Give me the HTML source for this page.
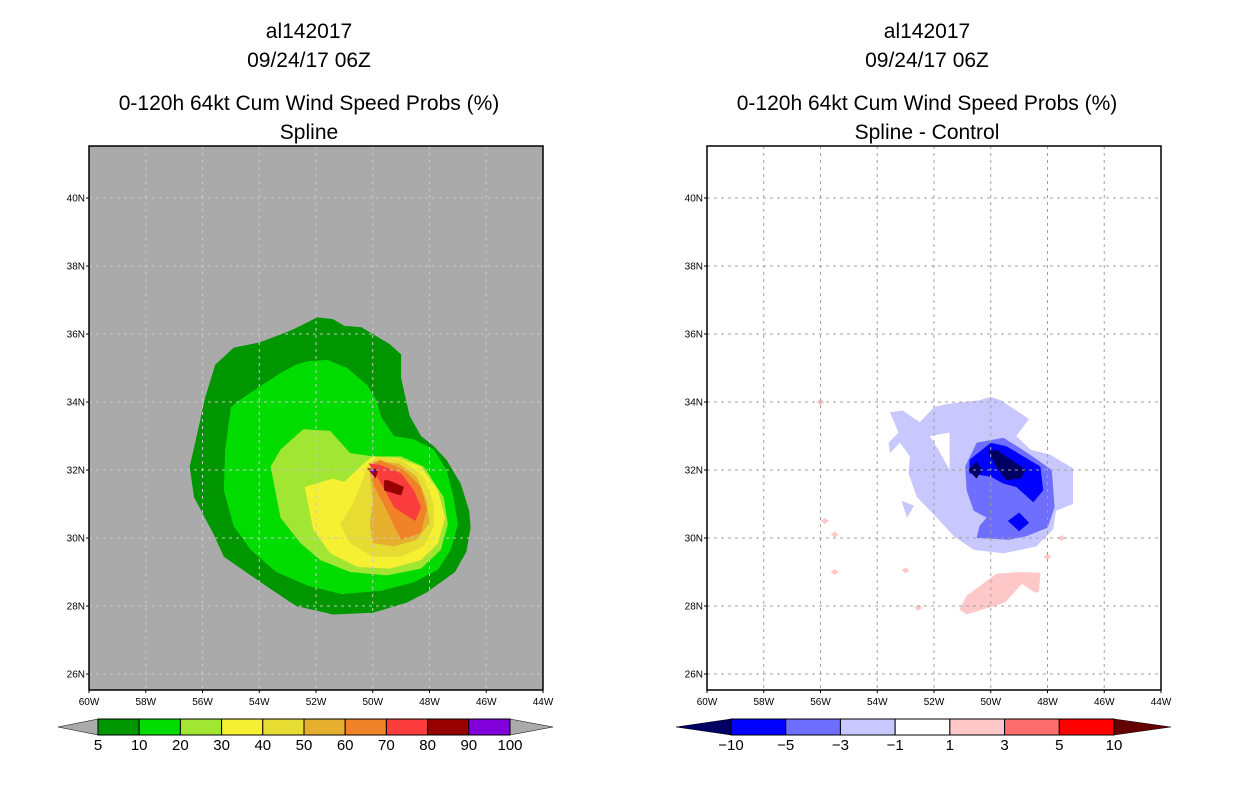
<!DOCTYPE html>
<html><head><meta charset="utf-8"><style>
html,body{margin:0;padding:0;background:#fff;width:1236px;height:800px;overflow:hidden}
svg{display:block}
text{font-family:"Liberation Sans",sans-serif;fill:#000}
</style></head><body>
<svg id="s" width="1236" height="800" xmlns="http://www.w3.org/2000/svg"></svg>
<script>
// ---- data ----
const latTicks=[26,28,30,32,34,36,38,40];
const lonTicks=[60,58,56,54,52,50,48,46,44];
const probLevels=[5,10,20,30,40,50,60,70,80,90,100];
const probColors=['#009600','#00dc00','#a0e632','#f5f032','#e6dc32','#e6af2d','#f08228','#fa3c3c','#960000','#8200dc'];
const diffLevels=[-10,-5,-3,-1,1,3,5,10];
const diffColors=['#0000ff','#6e6eff','#c8c8ff','#ffffff','#ffc8c8','#ff6e6e','#ff0000'];
// left contour polygons: [colorIndex, [[lon,lat],...]]
const probP5=[[-51.96,36.49],[-51.4,36.44],[-51.0,36.24],[-50.4,36.2],[-49.4,35.7],[-49.0,35.4],[-49.0,34.7],[-48.7,33.6],[-48.3,33.0],[-47.85,32.7],[-47.4,32.3],[-46.9,31.6],[-46.6,30.8],[-46.55,30.3],[-46.7,29.6],[-47.1,29.0],[-48.1,28.4],[-48.8,28.1],[-50.0,27.8],[-51.4,27.75],[-52.7,28.0],[-53.6,28.5],[-54.3,28.9],[-55.25,29.45],[-55.6,30.1],[-56.3,31.2],[-56.45,32.1],[-56.15,33.2],[-55.9,34.15],[-55.55,35.1],[-54.9,35.6],[-54.0,35.75],[-52.9,36.1],[-52.4,36.3]];
const probP10=[[-52.3,35.2],[-51.6,35.24],[-50.9,35.0],[-50.2,34.5],[-49.9,34.1],[-49.7,33.55],[-49.25,33.0],[-48.55,32.9],[-47.85,32.6],[-47.4,32.0],[-47.15,31.2],[-47.0,30.4],[-47.25,29.65],[-47.7,29.07],[-48.55,28.7],[-49.7,28.45],[-51.1,28.35],[-52.3,28.6],[-53.4,29.0],[-54.3,29.65],[-54.9,30.35],[-55.25,31.4],[-55.2,32.6],[-55.0,33.85],[-54.7,34.05],[-54.0,34.45],[-53.25,34.85],[-52.7,35.1]];
const probP20=[[-52.45,33.2],[-51.5,33.15],[-50.8,32.5],[-50.0,32.4],[-49.0,32.4],[-48.2,32.1],[-47.5,31.2],[-47.35,30.4],[-47.6,29.65],[-48.3,29.1],[-49.5,28.9],[-50.8,29.0],[-51.85,29.35],[-52.55,29.85],[-53.25,30.6],[-53.6,32.1],[-53.25,32.6]];
const probP30=[[-52.4,31.5],[-51.4,31.75],[-51.0,31.65],[-50.45,32.1],[-50.0,32.4],[-49.1,32.35],[-48.3,32.1],[-47.7,31.4],[-47.45,30.6],[-47.7,29.85],[-48.3,29.35],[-49.4,29.1],[-50.55,29.15],[-51.5,29.55],[-52.1,30.25]];
const probP40=[[-51.15,30.4],[-50.7,31.0],[-50.45,31.5],[-50.2,32.1],[-49.85,32.4],[-49.0,32.3],[-48.2,31.8],[-47.85,31.0],[-47.85,30.35],[-48.2,29.75],[-49.0,29.45],[-50.0,29.45],[-50.8,29.85]];
const probP50=[[-50.1,30.4],[-50.0,31.1],[-50.1,31.9],[-50.0,32.25],[-49.1,32.2],[-48.45,31.8],[-48.1,31.1],[-48.0,30.45],[-48.45,29.95],[-49.25,29.75],[-50.0,29.85]];
const probP60=[[-50.0,31.6],[-50.05,32.15],[-49.75,32.3],[-48.9,32.0],[-48.3,31.5],[-48.1,30.85],[-48.3,30.15],[-49.0,29.95],[-49.3,30.45],[-49.5,30.8]];
const probP70=[[-50.0,32.0],[-50.15,32.2],[-49.75,32.15],[-49.0,31.9],[-48.55,31.4],[-48.3,30.9],[-48.5,30.5],[-49.25,30.9],[-49.7,31.6]];
const probP80a=[[-49.6,31.7],[-49.45,31.7],[-48.9,31.5],[-49.0,31.25],[-49.6,31.4]];
const probP80b=[[-50.2,32.05],[-49.8,32.03],[-49.9,31.75]];
const probP90=[[-50.08,31.97],[-50.0,32.05],[-49.92,31.97],[-50.0,31.89]];
const probPolys=[[0,probP5],[1,probP10],[2,probP20],[3,probP30],[4,probP40],[5,probP50],[6,probP60],[7,probP70],[8,probP80a],[8,probP80b],[9,probP90]];
// right difference polygons
const diffLight=[[-53.55,33.7],[-53.1,33.75],[-52.5,33.4],[-52.0,33.85],[-51.5,33.95],[-50.4,34.05],[-50.0,34.15],[-49.65,34.05],[-48.65,33.5],[-49.1,33.0],[-48.6,32.6],[-47.9,32.45],[-47.1,32.05],[-47.1,31.0],[-47.7,30.8],[-47.8,30.25],[-48.4,29.75],[-49.55,29.55],[-50.6,29.65],[-51.3,30.05],[-51.9,30.6],[-52.6,31.2],[-52.9,31.9],[-52.85,32.4],[-53.2,32.8],[-53.55,32.5],[-53.6,32.8],[-53.25,33.1]];
const diffHole=[[-52.15,33.0],[-51.45,33.1],[-51.45,32.0],[-51.85,32.6]];
const diffLight2=[[-53.15,31.1],[-52.7,30.95],[-52.95,30.6]];
const diffMed=[[-50.5,32.8],[-49.55,32.95],[-48.7,32.5],[-47.85,32.0],[-47.75,30.9],[-48.0,30.3],[-48.75,30.05],[-49.35,29.95],[-50.5,30.0],[-50.4,30.35],[-50.15,30.6],[-50.6,30.8],[-50.85,31.4],[-50.9,32.1]];
const diffBlue=[[-50.0,32.8],[-49.45,32.7],[-48.25,32.1],[-48.15,31.4],[-48.5,31.05],[-49.1,31.5],[-49.55,31.6],[-50.0,31.8],[-50.75,31.9],[-50.75,32.3]];
const diffBlue2=[[-49.0,30.75],[-48.65,30.45],[-49.0,30.2],[-49.4,30.5]];
const diffNavy=[[-50.1,32.55],[-49.8,32.6],[-48.75,32.0],[-48.95,31.75],[-49.45,31.7],[-49.8,32.1]];
const diffNavy2=[[-50.5,32.25],[-50.3,32.0],[-50.5,31.75],[-50.8,32.0]];
const diffPink=[[-50.85,28.3],[-49.8,28.95],[-48.95,29.0],[-48.25,28.98],[-48.3,28.4],[-48.45,28.4],[-48.9,28.65],[-49.5,28.1],[-50.85,27.75],[-51.1,27.9]];
const pinkDotLon=[-56.0,-55.85,-55.5,-55.5,-53.0,-52.55,-47.5,-48.0];
const pinkDotLat=[34.0,30.5,30.1,29.0,29.05,27.95,30.0,29.45];
const diffPolys=[['#c8c8ff',diffLight],['#ffffff',diffHole],['#c8c8ff',diffLight2],['#6e6eff',diffMed],['#0000ff',diffBlue],['#0000ff',diffBlue2],['#000064',diffNavy],['#000064',diffNavy2],['#ffc8c8',diffPink]];

// ---- drawing ----
const S=document.getElementById('s');
const NS='http://www.w3.org/2000/svg';
function mk(tag,attrs,parent){const e=document.createElementNS(NS,tag);for(const k in attrs)e.setAttribute(k,attrs[k]);(parent||S).appendChild(e);return e;}
const Y0=146,Y1=690,LATMIN=25.53,LATMAX=41.53;
function yS(lat){return Y0+(LATMAX-lat)/(LATMAX-LATMIN)*(Y1-Y0);}
function panel(x0,title2,bg,polys,isLeft,name){
  const x1=x0+454;
  const xS=lon=>x0+(lon+60)/16*454;
  const g=mk('g',{});
  
  
  const cx=x0+220;
  const titles=['al142017','09/24/17 06Z','0-120h 64kt Cum Wind Speed Probs (%)',title2];
  const ty=[38,67,110,139];
  titles.forEach((t,i)=>{const e=mk('text',{x:cx,y:ty[i],'text-anchor':'middle','font-size':21},g);e.textContent=t;
    });
  const bgr=mk('rect',{x:x0,y:Y0,width:454,height:Y1-Y0,fill:bg},g);
  
  polys.forEach(p=>{
    const col=isLeft?probColors[p[0]]:p[0];
    const e=mk('polygon',{points:p[1].map(q=>xS(q[0]).toFixed(1)+','+yS(q[1]).toFixed(1)).join(' '),fill:col},g);
    
  });
  if(!isLeft){
    pinkDotLon.forEach((lo,i)=>{const x=xS(lo),y=yS(pinkDotLat[i]);
      const e=mk('polygon',{points:`${x-4},${y} ${x},${y-3} ${x+4},${y} ${x},${y+3}`,fill:'#ffc8c8'},g);
      });
  }
  const gc=isLeft?'#c8c8c8':'#a0a0a0';
  lonTicks.slice(1,-1).forEach(l=>{const x=xS(-l);const e=mk('line',{x1:x,x2:x,y1:Y0,y2:Y1,stroke:gc,'stroke-dasharray':'3,4'},g);
    });
  latTicks.forEach(l=>{const y=yS(l);const e=mk('line',{x1:x0,x2:x1,y1:y,y2:y,stroke:gc,'stroke-dasharray':'3,4'},g);
    
    const t=mk('text',{x:x0-4,y:y+3.5,'text-anchor':'end','font-size':10},g);t.textContent=l+'N';
    
    mk('line',{x1:x0-3,x2:x0,y1:y,y2:y,stroke:'#000'},g);});
  lonTicks.forEach(l=>{const x=xS(-l);const t=mk('text',{x:x,y:Y1+15,'text-anchor':'middle','font-size':10},g);t.textContent=l+'W';
    
    mk('line',{x1:x,x2:x,y1:Y1,y2:Y1+3,stroke:'#000'},g);});
  const fr=mk('rect',{x:x0,y:Y0,width:454,height:Y1-Y0,fill:'none',stroke:'#000','stroke-width':1.5},g);
  
}
panel(89,'Spline','#aaaaaa',probPolys,true,'left-panel-spline');
panel(707,'Spline - Control','#ffffff',diffPolys,false,'right-panel-difference');

function colorbar(bx0,bx1,tl,tr,colors,labels,lcol,rcol,name){
  const g=mk('g',{});
  const y0=719,y1=735,ym=727,w=(bx1-bx0)/colors.length;
  const a=mk('polygon',{points:`${tl},${ym} ${bx0},${y0} ${bx0},${y1}`,fill:lcol,stroke:'#000','stroke-width':0.5},g);
  
  const b=mk('polygon',{points:`${tr},${ym} ${bx1},${y0} ${bx1},${y1}`,fill:rcol,stroke:'#000','stroke-width':0.5},g);
  
  colors.forEach((c,i)=>{const r=mk('rect',{x:bx0+i*w,y:y0,width:w,height:y1-y0,fill:c,stroke:'#000','stroke-width':1},g);
    });
  labels.forEach((l,i)=>{const t=mk('text',{x:bx0+i*w,y:750,'text-anchor':'middle','font-size':15},g);t.textContent=String(l).replace('-','\u2212');
    });
}
colorbar(98,510,58,553,probColors,probLevels,'#aaaaaa','#aaaaaa','probability-colorbar');
colorbar(731,1114,676,1171,diffColors,diffLevels,'#000064','#640000','difference-colorbar');
</script>
</body></html>
